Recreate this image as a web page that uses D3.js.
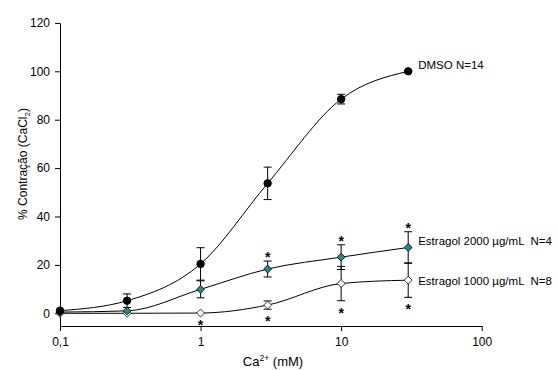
<!DOCTYPE html>
<html lang="pt">
    <head>
        <meta charset="utf-8">
        <title>Contração CaCl2</title>
        <style type="text/css">
            body { margin: 0; background: #fff; }
            svg text { font-family: "Liberation Sans", Arial, sans-serif; fill: #000; }
        </style>
    </head>
    <body>

<script src="https://cdn.jsdelivr.net/npm/d3@7"></script>

<script>

    var w = 558;
    var h = 370;

    // concentrations (mM)
    var conc = [0.1, 0.3, 1, 3, 10, 30];

    // mean and error for each series
    var dmso = [1.1, 5.2, 20.4, 53.7, 88.5, 100];
    var dmsoErr = [0, 2.8, 6.7, 6.7, 2, 0.3];
    var est2000 = [0.5, 1, 9.9, 18.3, 23.2, 27.2];
    var est2000Err = [0, 0, 3.5, 3.3, 5.1, 6.5];
    var est1000 = [0, 0, 0.1, 3.4, 12.3, 13.7];
    var est1000Err = [0, 0, 0, 1.7, 7.1, 7.1];

    // significance stars
    var star2000 = [false, false, false, true, true, true];
    var star1000 = [false, false, true, true, true, true];

    var seriesNames = ["DMSO N=14", "Estragol 2000 \u00b5g/mL  N=4", "Estragol 1000 \u00b5g/mL  N=8"];

    var xTicks = [0.1, 1, 10, 100];
    var xTickLabels = ["0,1", "1", "10", "100"];
    var yTicks = [0, 20, 40, 60, 80, 100, 120];

    var svg = d3.select("body")
            .append("svg")
            .attr("width", w)
            .attr("height", h);

    var x = d3.scaleLog().domain([0.1, 100]).range([60, 481.7]);
    var y = d3.scaleLinear().domain([-5.25, 120]).range([326, 22.9]);

    //axes
    var xAxis = d3.axisBottom(x)
        .tickValues(xTicks)
        .tickFormat(function(d, i) { return xTickLabels[i]; })
        .tickSize(5)
        .tickSizeOuter(0)
        .tickPadding(6);

    var yAxis = d3.axisLeft(y)
        .tickValues(yTicks)
        .tickSize(5)
        .tickSizeOuter(0)
        .tickPadding(5);

    svg.append("g")
        .attr("transform", "translate(0," + y(-5.25) + ")")
        .call(xAxis);

    svg.append("g")
        .attr("transform", "translate(" + x(0.1) + ",0)")
        .call(yAxis);

    svg.selectAll(".tick text")
        .style("font-family", "'Liberation Sans', Arial, sans-serif")
        .style("font-size", "12px")
        .attr("fill", "#000");
    svg.selectAll(".domain, .tick line").attr("stroke", "#000");

    //axis titles
    var xt = svg.append("text")
        .attr("x", 273)
        .attr("y", 365.5)
        .attr("text-anchor", "middle")
        .style("font-size", "13px");
    xt.append("tspan").text("Ca");
    xt.append("tspan").attr("dy", -5).style("font-size", "8.5px").text("2+");
    xt.append("tspan").attr("dy", 5).text(" (mM)");

    var yt = svg.append("text")
        .attr("transform", "translate(27,164) rotate(-90)")
        .attr("text-anchor", "middle")
        .style("font-size", "12px");
    yt.append("tspan").text("% Contração (CaCl");
    yt.append("tspan").attr("dy", 3).style("font-size", "8px").text("2");
    yt.append("tspan").attr("dy", -3).text(")");

    var series = [
        { vals: dmso, err: dmsoErr, shape: "circle", fill: "#000", name: seriesNames[0], ly: -6 },
        { vals: est2000, err: est2000Err, shape: "diamond", fill: "#2a8585", name: seriesNames[1], ly: -6 },
        { vals: est1000, err: est1000Err, shape: "diamond", fill: "#fff", name: seriesNames[2], ly: 1 }
    ];

    var line = d3.line()
        .x(function(d) { return x(d[0]); })
        .y(function(d) { return y(d[1]); })
        .curve(d3.curveMonotoneX);

    //curves
    series.forEach(function(s) {
        var pts = conc.map(function(c, i) { return [c, s.vals[i]]; });
        svg.append("path")
            .attr("d", line(pts))
            .attr("fill", "none")
            .attr("stroke", "#000")
            .attr("stroke-width", 1);
    });

    //error bars
    series.forEach(function(s) {
        conc.forEach(function(c, i) {
            if (s.err[i] <= 0) return;
            var cx = x(c);
            var y1 = y(s.vals[i] + s.err[i]);
            var y2 = y(s.vals[i] - s.err[i]);
            var g = svg.append("g").attr("stroke", "#000").attr("stroke-width", 1);
            g.append("line").attr("x1", cx).attr("x2", cx).attr("y1", y1).attr("y2", y2);
            g.append("line").attr("x1", cx - 4).attr("x2", cx + 4).attr("y1", y1).attr("y2", y1);
            g.append("line").attr("x1", cx - 4).attr("x2", cx + 4).attr("y1", y2).attr("y2", y2);
        });
    });

    //markers
    var diamond = d3.symbol().type(d3.symbolDiamond2).size(40);
    series.slice().reverse().forEach(function(s) {
        conc.forEach(function(c, i) {
            if (s.shape == "circle") {
                svg.append("circle")
                    .attr("cx", x(c))
                    .attr("cy", y(s.vals[i]))
                    .attr("r", 3.7)
                    .attr("fill", s.fill)
                    .attr("stroke", "#000");
            } else {
                svg.append("path")
                    .attr("d", diamond())
                    .attr("transform", "translate(" + x(c) + "," + y(s.vals[i]) + ")")
                    .attr("fill", s.fill)
                    .attr("stroke", "#000")
                    .attr("stroke-width", 0.8);
            }
        });
    });

    //stars: above for 2000, below for 1000
    conc.forEach(function(c, i) {
        if (star2000[i]) {
            svg.append("text")
                .attr("x", x(c))
                .attr("y", y(est2000[i] + est2000Err[i]) - 7 + 8)
                .attr("text-anchor", "middle")
                .style("font-size", "14px")
                .style("font-weight", "bold")
                .text("*");
        }
        if (star1000[i]) {
            svg.append("text")
                .attr("x", x(c))
                .attr("y", y(est1000[i] - est1000Err[i]) + 9 + 8)
                .attr("text-anchor", "middle")
                .style("font-size", "14px")
                .style("font-weight", "bold")
                .text("*");
        }
    });

    //series labels
    series.forEach(function(s) {
        svg.append("text")
            .attr("x", x(30) + 10)
            .attr("y", y(s.vals[5]) + s.ly)
            .attr("dy", "0.35em")
            .style("font-size", "11.5px")
            .style("white-space", "pre")
            .text(s.name);
    });

</script>

    </body>
</html>
